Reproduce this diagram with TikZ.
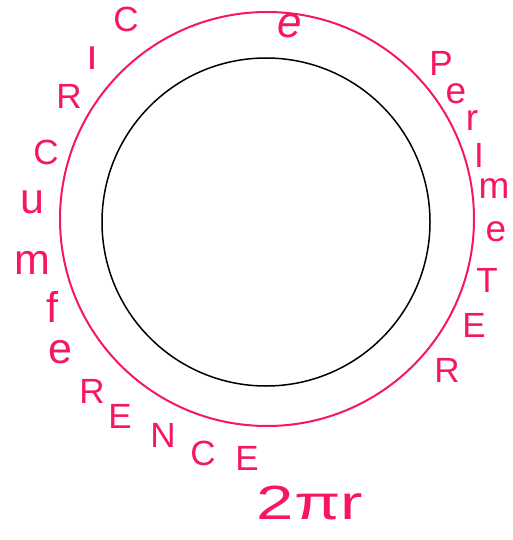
\documentclass[tikz,border=0pt]{standalone}
\usepackage{fontspec}
\setmainfont{Liberation Sans}
\usetikzlibrary{positioning}
\definecolor{inkpink}{RGB}{247,22,98}

\begin{document}
\begin{tikzpicture}[x=1pt,y=-1pt]
  \tikzset{ring/.style={circle,draw,inner sep=0pt},
    capital/.style={text=inkpink,inner sep=0pt,font=\fontsize{35}{35}\selectfont},
    lower/.style={text=inkpink,inner sep=0pt,font=\fontsize{43}{43}\selectfont},
    lowsmall/.style={text=inkpink,inner sep=0pt,font=\fontsize{37}{37}\selectfont}}
  \useasboundingbox (0,0) rectangle (512,540);
  \node[ring,line width=1.5pt,minimum size=328pt] (inner) at (266,222) {};
  \node[ring,draw=inkpink,line width=2pt,minimum size=414pt] (outer) at (267,219) {};
  % circumference, left side
  \foreach \n/\s/\x/\y/\t in {c1/capital/126/19/C,c2/lower/92/58/\i,c3/capital/69/96/R,c4/capital/46/152/C,c5/lower/32/202/u,c6/lower/32/263/m,c7/lower/52/307/f,c8/lower/60/352/e,c9/capital/92/391/R,c10/capital/120/416/E,c11/capital/163/435/N,c12/capital/203/453/C,c13/capital/247/458/E}
    \node[\s] (\n) at (\x,\y) {\t};
  % perimeter, right side
  \foreach \n/\s/\x/\y/\t in {p1/capital/441/63/P,p2/lowsmall/456/94/e,p3/lowsmall/472/121/r,p4/capital/479/155/I,p5/lowsmall/494/189/m,p6/lowsmall/496/232/e,p7/capital/487/280/T,p8/capital/474/325/E,p9/capital/447/370/R}
    \node[\s] (\n) at (\x,\y) {\t};
  \node[lower,font=\fontsize{44}{44}\itshape] (top) at (290,26) {e};
  \node[capital,font=\fontsize{48}{48}\selectfont,xscale=1.4] (formula) at (310,503) {2πr};
\end{tikzpicture}
\end{document}
